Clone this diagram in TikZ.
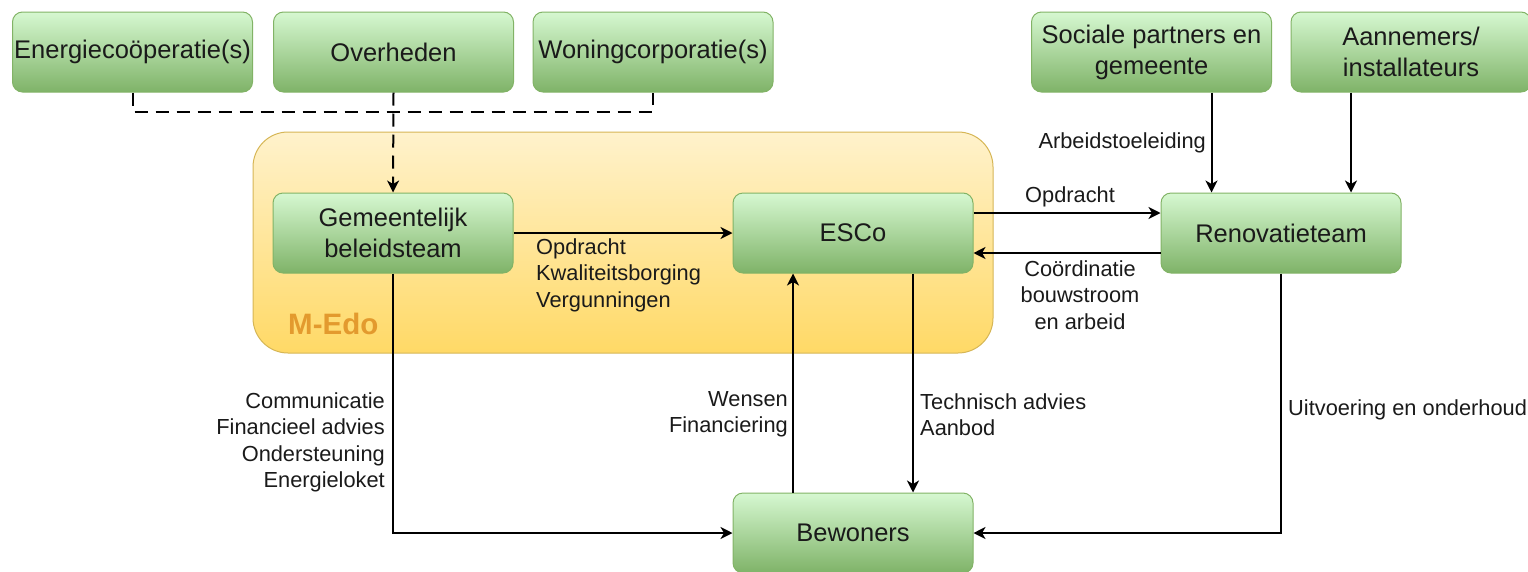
\documentclass[tikz,border=0pt]{standalone}
\usepackage{fontspec}
\setmainfont{Liberation Sans}
\usetikzlibrary{arrows.meta}
\definecolor{gtop}{HTML}{D6F8D1}
\definecolor{gbot}{HTML}{7FB368}
\definecolor{gline}{HTML}{82B366}
\definecolor{ytop}{HTML}{FFF2CC}
\definecolor{ybot}{HTML}{FFD966}
\definecolor{yline}{HTML}{D6B656}
\definecolor{medo}{HTML}{E39A2E}
\definecolor{txt}{HTML}{1A1A1A}
\begin{document}
\begin{tikzpicture}[x=1pt,y=-1pt,
  box/.style={draw=gline, line width=1pt, rounded corners=10pt, top color=gtop, bottom color=gbot,
    minimum width=240pt, minimum height=80pt, inner sep=0pt, align=center,
    font=\fontsize{25.5}{31}\selectfont, text=txt},
  lbl/.style={font=\fontsize{21.8}{26.5}\selectfont, inner sep=0pt, text=txt},
  arr/.style={line width=2pt, -{Stealth[length=12pt,width=12pt,inset=3.5pt]}},
  dsh/.style={line width=2pt, dash pattern=on 13pt off 8pt}]
\useasboundingbox (0,0) rectangle (1528,571);
% container
\node[draw=yline, line width=1pt, rounded corners=35pt, top color=ytop, bottom color=ybot,
  minimum width=740pt, minimum height=221pt, inner sep=0pt] (medo) at (623,242.5) {};
\node[anchor=west, inner sep=0pt, font=\bfseries\fontsize{29.5}{32}\selectfont, text=medo] (medolbl) at (288,324) {M-Edo};
% boxes
\node[box] (energie) at (132.5,52) {Energiecoöperatie(s)};
\node[box] (overheden) at (393.5,52) {Overheden};
\node[box] (woning) at (653,52) {Woningcorporatie(s)};
\node[box] (sociale) at (1151.5,52) {Sociale partners en\\gemeente};
\node[box] (aannemers) at (1411,52) {Aannemers/\\installateurs};
\node[box] (gemeente) at (393,233) {Gemeentelijk\\beleidsteam};
\node[box] (esco) at (853,233) {ESCo};
\node[box] (renov) at (1281,233) {Renovatieteam};
\node[box] (bewoners) at (853,533) {Bewoners};
% connectors
\draw[dsh] (energie.south) -- ++(0,19) coordinate (dj) -| (woning.south);
\draw[dsh, arr] (overheden.south) -- (gemeente.north);
\draw[arr] (gemeente.east) -- (esco.west);
\draw[arr] ([yshift=20pt]esco.east) -- ([yshift=20pt]renov.west);
\draw[arr] ([yshift=-20pt]renov.west) -- ([yshift=-20pt]esco.east);
\draw[arr] ([xshift=60pt]sociale.south) -- ([xshift=60pt]sociale.south |- renov.north);
\draw[arr] ([xshift=-60pt]aannemers.south) -- ([xshift=-60pt]aannemers.south |- renov.north);
\draw[arr] (gemeente.south) |- (bewoners.west);
\draw[arr] ([xshift=-60pt]bewoners.north) -- ([xshift=-60pt]esco.south);
\draw[arr] ([xshift=60pt]esco.south) -- ([xshift=60pt]bewoners.north);
\draw[arr] (renov.south) |- (bewoners.east);
% labels
\node[lbl, align=left, anchor=west] (l1) at (536,275) {Opdracht\\Kwaliteitsborging\\Vergunningen};
\node[lbl, anchor=west] (l2) at (1025,197) {Opdracht};
\node[lbl, align=center] (l3) at (1080,295) {Coördinatie\\bouwstroom\\en arbeid};
\node[lbl, anchor=east] (l4) at (1206,143) {Arbeidstoeleiding};
\node[lbl, align=right, anchor=east] (l5) at (385,442.5) {Communicatie\\Financieel advies\\Ondersteuning\\Energieloket};
\node[lbl, align=right, anchor=east] (l6) at (788,414.5) {Wensen\\Financiering};
\node[lbl, align=left, anchor=west] (l7) at (920,414.5) {Technisch advies\\Aanbod};
\node[lbl, anchor=west] (l8) at (1288,410) {Uitvoering en onderhoud};
\end{tikzpicture}
\end{document}
